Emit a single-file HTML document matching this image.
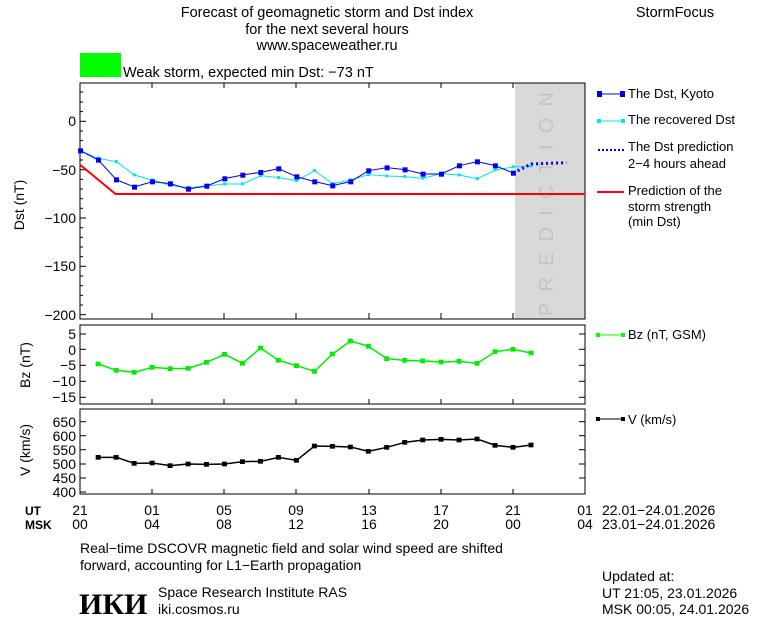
<!DOCTYPE html>
<html><head><meta charset="utf-8"><style>
html,body{margin:0;padding:0;background:#fff;}
svg{display:block;font-family:"Liberation Sans",sans-serif;}
</style></head><body>
<svg width="760" height="620" viewBox="0 0 760 620" xmlns="http://www.w3.org/2000/svg">
<rect width="760" height="620" fill="#fff"/>
<g font-size="14.5" fill="#000">
<text x="327" y="17" text-anchor="middle">Forecast of geomagnetic storm and Dst index</text>
<text x="327" y="34" text-anchor="middle">for the next several hours</text>
<text x="327" y="50" text-anchor="middle">www.spaceweather.ru</text>
<text x="675" y="17" text-anchor="middle">StormFocus</text>
<text x="123" y="77">Weak storm, expected min Dst: −73 nT</text>
</g>
<rect x="80" y="53" width="41" height="24" fill="#00ff00"/>

<!-- Dst panel -->
<rect x="515" y="83" width="70" height="236" fill="#d9d9d9"/>
<text transform="translate(553,316) rotate(-90)" font-size="20" fill="#c4c4c4" textLength="224" lengthAdjust="spacing">PREDICTION</text>
<rect x="80" y="83" width="505" height="236" fill="none" stroke="#000" stroke-width="1"/>
<g stroke="#000" stroke-width="1">
<line x1="80" y1="121.3" x2="86" y2="121.3"/><line x1="80" y1="169.7" x2="86" y2="169.7"/><line x1="80" y1="218" x2="86" y2="218"/><line x1="80" y1="266.3" x2="86" y2="266.3"/><line x1="80" y1="314.7" x2="86" y2="314.7"/>
<line x1="80" y1="92" x2="83" y2="92"/><line x1="80" y1="102" x2="83" y2="102"/><line x1="80" y1="111.6" x2="83" y2="111.6"/><line x1="80" y1="131" x2="83" y2="131"/><line x1="80" y1="140.6" x2="83" y2="140.6"/><line x1="80" y1="150.3" x2="83" y2="150.3"/><line x1="80" y1="160" x2="83" y2="160"/><line x1="80" y1="179.3" x2="83" y2="179.3"/><line x1="80" y1="189" x2="83" y2="189"/><line x1="80" y1="198.7" x2="83" y2="198.7"/><line x1="80" y1="208.3" x2="83" y2="208.3"/><line x1="80" y1="227.7" x2="83" y2="227.7"/><line x1="80" y1="237.3" x2="83" y2="237.3"/><line x1="80" y1="247" x2="83" y2="247"/><line x1="80" y1="256.7" x2="83" y2="256.7"/><line x1="80" y1="276" x2="83" y2="276"/><line x1="80" y1="285.7" x2="83" y2="285.7"/><line x1="80" y1="295.3" x2="83" y2="295.3"/><line x1="80" y1="305" x2="83" y2="305"/>
<line x1="152" y1="83" x2="152" y2="88"/><line x1="224" y1="83" x2="224" y2="88"/><line x1="296" y1="83" x2="296" y2="88"/><line x1="369" y1="83" x2="369" y2="88"/><line x1="441" y1="83" x2="441" y2="88"/><line x1="513" y1="83" x2="513" y2="88"/>
<line x1="152" y1="319" x2="152" y2="313"/><line x1="224" y1="319" x2="224" y2="313"/><line x1="296" y1="319" x2="296" y2="313"/><line x1="369" y1="319" x2="369" y2="313"/><line x1="441" y1="319" x2="441" y2="313"/><line x1="513" y1="319" x2="513" y2="313"/>
</g>
<g font-size="14" text-anchor="end">
<text x="76" y="126">0</text><text x="76" y="175">−50</text><text x="76" y="223">−100</text><text x="76" y="271">−150</text><text x="76" y="320">−200</text>
</g>
<text transform="translate(24,205) rotate(-90)" font-size="14" text-anchor="middle">Dst (nT)</text>

<g transform="translate(0,80) scale(0.3827,0.33333)">
<polyline fill="none" stroke="#ff0000" stroke-width="2" vector-effect="non-scaling-stroke" points="210,255 302,342 1530,342"/>
<polyline fill="none" stroke="#00e5f0" stroke-width="1" vector-effect="non-scaling-stroke" points="210,212 257,235 304,245 351,285 398,300 445,316 492,323 540,318 587,312 634,312 681,287 728,293 775,302 822,272 869,311 916,300 963,284 1011,288 1058,290 1105,295 1153,281 1200,285 1247,296 1294,270 1341,261 1388,258"/>
<g fill="#00e5f0">
<rect x="253" y="230" width="8" height="9"/><rect x="300" y="240" width="8" height="9"/><rect x="347" y="280" width="8" height="9"/><rect x="394" y="295" width="8" height="9"/><rect x="441" y="311" width="8" height="9"/><rect x="488" y="318" width="8" height="9"/><rect x="536" y="313" width="8" height="9"/><rect x="583" y="307" width="8" height="9"/><rect x="630" y="307" width="8" height="9"/><rect x="677" y="282" width="8" height="9"/><rect x="724" y="288" width="8" height="9"/><rect x="771" y="297" width="8" height="9"/><rect x="818" y="267" width="8" height="9"/><rect x="865" y="306" width="8" height="9"/><rect x="912" y="295" width="8" height="9"/><rect x="959" y="279" width="8" height="9"/><rect x="1007" y="283" width="8" height="9"/><rect x="1054" y="285" width="8" height="9"/><rect x="1101" y="290" width="8" height="9"/><rect x="1149" y="276" width="8" height="9"/><rect x="1196" y="280" width="8" height="9"/><rect x="1243" y="291" width="8" height="9"/><rect x="1290" y="265" width="8" height="9"/><rect x="1337" y="256" width="8" height="9"/><rect x="1384" y="253" width="8" height="9"/>
</g>
<polyline fill="none" stroke="#0000ee" stroke-width="1" vector-effect="non-scaling-stroke" points="210,212 257,240 304,299 351,321 398,305 445,311 492,327 540,318 587,296 634,285 681,277 728,266 775,290 822,305 869,317 916,305 963,272 1011,263 1058,269 1105,282 1153,282 1200,257 1247,245 1294,257 1341,279"/>
<polyline fill="none" stroke="#0000ee" stroke-width="3" stroke-dasharray="2,3" vector-effect="non-scaling-stroke" points="1341,279 1388,252 1480,248"/>
<g fill="#0000ee">
<rect x="204" y="205" width="13" height="15"/><rect x="251" y="233" width="13" height="15"/><rect x="298" y="292" width="13" height="15"/><rect x="345" y="314" width="13" height="15"/><rect x="392" y="298" width="13" height="15"/><rect x="439" y="304" width="13" height="15"/><rect x="486" y="320" width="13" height="15"/><rect x="534" y="311" width="13" height="15"/><rect x="581" y="289" width="13" height="15"/><rect x="628" y="278" width="13" height="15"/><rect x="675" y="270" width="13" height="15"/><rect x="722" y="259" width="13" height="15"/><rect x="769" y="283" width="13" height="15"/><rect x="816" y="298" width="13" height="15"/><rect x="863" y="310" width="13" height="15"/><rect x="910" y="298" width="13" height="15"/><rect x="957" y="265" width="13" height="15"/><rect x="1005" y="256" width="13" height="15"/><rect x="1052" y="262" width="13" height="15"/><rect x="1099" y="275" width="13" height="15"/><rect x="1147" y="275" width="13" height="15"/><rect x="1194" y="250" width="13" height="15"/><rect x="1241" y="238" width="13" height="15"/><rect x="1288" y="250" width="13" height="15"/><rect x="1335" y="272" width="13" height="15"/>
</g>
</g>

<!-- Legend -->
<g font-size="13">
<line x1="598" y1="94" x2="624" y2="94" stroke="#0000ee"/><rect x="597" y="91" width="5" height="6" fill="#0000ee"/><rect x="620" y="91" width="5" height="6" fill="#0000ee"/>
<text x="628" y="98">The Dst, Kyoto</text>
<line x1="598" y1="121" x2="624" y2="121" stroke="#00e5f0"/><rect x="597" y="119" width="4" height="4" fill="#00e5f0"/><rect x="621" y="119" width="4" height="4" fill="#00e5f0"/>
<text x="628" y="124">The recovered Dst</text>
<line x1="598" y1="150" x2="624" y2="150" stroke="#0000ee" stroke-width="2" stroke-dasharray="2,2"/>
<text x="628" y="151">The Dst prediction</text>
<text x="628" y="168">2−4 hours ahead</text>
<line x1="597" y1="192" x2="624" y2="192" stroke="#ff0000" stroke-width="2"/>
<text x="628" y="195">Prediction of the</text>
<text x="628" y="211">storm strength</text>
<text x="628" y="226">(min Dst)</text>
<line x1="597" y1="335" x2="624" y2="335" stroke="#00ff00"/><rect x="596" y="333" width="4" height="4" fill="#00ff00"/><rect x="621" y="333" width="4" height="4" fill="#00ff00"/>
<text x="628" y="339">Bz (nT, GSM)</text>
<line x1="597" y1="419" x2="624" y2="419" stroke="#000"/><rect x="596" y="417" width="4" height="4" fill="#000"/><rect x="621" y="417" width="4" height="4" fill="#000"/>
<text x="628" y="424">V (km/s)</text>
</g>

<!-- Bz panel -->
<rect x="80" y="325" width="505" height="79" fill="none" stroke="#000"/>
<rect x="80" y="409" width="505" height="85" fill="none" stroke="#000"/>
<g stroke="#000">
<line x1="80" y1="334" x2="86" y2="334"/><line x1="80" y1="349.3" x2="86" y2="349.3"/><line x1="80" y1="365.3" x2="86" y2="365.3"/><line x1="80" y1="381.3" x2="86" y2="381.3"/><line x1="80" y1="397.3" x2="86" y2="397.3"/>
<line x1="585" y1="334" x2="579" y2="334"/><line x1="585" y1="349.3" x2="579" y2="349.3"/><line x1="585" y1="365.3" x2="579" y2="365.3"/><line x1="585" y1="381.3" x2="579" y2="381.3"/><line x1="585" y1="397.3" x2="579" y2="397.3"/>
<line x1="80" y1="421.7" x2="86" y2="421.7"/><line x1="80" y1="435.7" x2="86" y2="435.7"/><line x1="80" y1="449.7" x2="86" y2="449.7"/><line x1="80" y1="464" x2="86" y2="464"/><line x1="80" y1="478" x2="86" y2="478"/><line x1="80" y1="492" x2="86" y2="492"/>
<line x1="585" y1="421.7" x2="579" y2="421.7"/><line x1="585" y1="435.7" x2="579" y2="435.7"/><line x1="585" y1="449.7" x2="579" y2="449.7"/><line x1="585" y1="464" x2="579" y2="464"/><line x1="585" y1="478" x2="579" y2="478"/>
<line x1="152" y1="404" x2="152" y2="399"/><line x1="224" y1="404" x2="224" y2="399"/><line x1="296" y1="404" x2="296" y2="399"/><line x1="369" y1="404" x2="369" y2="399"/><line x1="441" y1="404" x2="441" y2="399"/><line x1="513" y1="404" x2="513" y2="399"/>
<line x1="152" y1="494" x2="152" y2="489"/><line x1="224" y1="494" x2="224" y2="489"/><line x1="296" y1="494" x2="296" y2="489"/><line x1="369" y1="494" x2="369" y2="489"/><line x1="441" y1="494" x2="441" y2="489"/><line x1="513" y1="494" x2="513" y2="489"/>
</g>
<g font-size="14" text-anchor="end">
<text x="76" y="339">5</text><text x="76" y="355">0</text><text x="76" y="370">−5</text><text x="76" y="386">−10</text><text x="76" y="402">−15</text>
<text x="76" y="427">650</text><text x="76" y="441">600</text><text x="76" y="455">550</text><text x="76" y="469">500</text><text x="76" y="483">450</text><text x="76" y="497">400</text>
</g>
<text transform="translate(30,365) rotate(-90)" font-size="14" text-anchor="middle">Bz (nT)</text>
<text transform="translate(30,450) rotate(-90)" font-size="14" text-anchor="middle">V (km/s)</text>

<g transform="translate(0,320) scale(0.3827,0.33333)">
<polyline fill="none" stroke="#00ee00" stroke-width="1.5" vector-effect="non-scaling-stroke" points="257,132 304,151 351,157 398,142 445,146 492,145 540,127 587,103 634,130 681,84 728,121 775,137 822,154 869,102 916,63 963,79 1011,116 1058,121 1105,123 1153,126 1200,124 1247,130 1294,95 1341,88 1388,99"/>
<g fill="#00ee00">
<rect x="250" y="125" width="13" height="14"/><rect x="297" y="144" width="13" height="14"/><rect x="344" y="150" width="13" height="14"/><rect x="391" y="135" width="13" height="14"/><rect x="438" y="139" width="13" height="14"/><rect x="485" y="138" width="13" height="14"/><rect x="533" y="120" width="13" height="14"/><rect x="580" y="96" width="13" height="14"/><rect x="627" y="123" width="13" height="14"/><rect x="674" y="77" width="13" height="14"/><rect x="721" y="114" width="13" height="14"/><rect x="768" y="130" width="13" height="14"/><rect x="815" y="147" width="13" height="14"/><rect x="862" y="95" width="13" height="14"/><rect x="909" y="56" width="13" height="14"/><rect x="956" y="72" width="13" height="14"/><rect x="1004" y="109" width="13" height="14"/><rect x="1051" y="114" width="13" height="14"/><rect x="1098" y="116" width="13" height="14"/><rect x="1146" y="119" width="13" height="14"/><rect x="1193" y="117" width="13" height="14"/><rect x="1240" y="123" width="13" height="14"/><rect x="1287" y="88" width="13" height="14"/><rect x="1334" y="81" width="13" height="14"/><rect x="1381" y="92" width="13" height="14"/>
</g>
<polyline fill="none" stroke="#000" stroke-width="1.5" vector-effect="non-scaling-stroke" points="257,412 304,412 351,430 398,429 445,437 492,432 540,433 587,432 634,425 681,424 728,412 775,421 822,378 869,379 916,381 963,394 1011,382 1058,367 1105,360 1153,358 1200,360 1247,357 1294,376 1341,382 1388,375"/>
<g fill="#000">
<rect x="250" y="405" width="13" height="14"/><rect x="297" y="405" width="13" height="14"/><rect x="344" y="423" width="13" height="14"/><rect x="391" y="422" width="13" height="14"/><rect x="438" y="430" width="13" height="14"/><rect x="485" y="425" width="13" height="14"/><rect x="533" y="426" width="13" height="14"/><rect x="580" y="425" width="13" height="14"/><rect x="627" y="418" width="13" height="14"/><rect x="674" y="417" width="13" height="14"/><rect x="721" y="405" width="13" height="14"/><rect x="768" y="414" width="13" height="14"/><rect x="815" y="371" width="13" height="14"/><rect x="862" y="372" width="13" height="14"/><rect x="909" y="374" width="13" height="14"/><rect x="956" y="387" width="13" height="14"/><rect x="1004" y="375" width="13" height="14"/><rect x="1051" y="360" width="13" height="14"/><rect x="1098" y="353" width="13" height="14"/><rect x="1146" y="351" width="13" height="14"/><rect x="1193" y="353" width="13" height="14"/><rect x="1240" y="350" width="13" height="14"/><rect x="1287" y="369" width="13" height="14"/><rect x="1334" y="375" width="13" height="14"/><rect x="1381" y="368" width="13" height="14"/>
</g>
</g>

<!-- X labels -->
<g font-size="14" text-anchor="middle">
<text x="80" y="515">21</text><text x="152" y="515">01</text><text x="224" y="515">05</text><text x="296" y="515">09</text><text x="369" y="515">13</text><text x="441" y="515">17</text><text x="513" y="515">21</text><text x="585" y="515">01</text>
<text x="80" y="529">00</text><text x="152" y="529">04</text><text x="224" y="529">08</text><text x="296" y="529">12</text><text x="369" y="529">16</text><text x="441" y="529">20</text><text x="513" y="529">00</text><text x="585" y="529">04</text>
</g>
<g font-size="12" font-weight="bold"><text x="25" y="515">UT</text><text x="25" y="529">MSK</text></g>
<g font-size="14">
<text x="602" y="515">22.01−24.01.2026</text>
<text x="602" y="529">23.01−24.01.2026</text>
<text x="80" y="553">Real−time DSCOVR magnetic field and solar wind speed are shifted</text>
<text x="80" y="570">forward, accounting for L1−Earth propagation</text>
<text x="158" y="597">Space Research Institute RAS</text>
<text x="158" y="614">iki.cosmos.ru</text>
<text x="602" y="581">Updated at:</text>
<text x="602" y="598">UT   21:05, 23.01.2026</text>
<text x="602" y="614">MSK 00:05, 24.01.2026</text>
</g>
<text x="79" y="614" font-family="Liberation Serif,serif" font-size="30" font-weight="bold">ИКИ</text>
</svg>
</body></html>
